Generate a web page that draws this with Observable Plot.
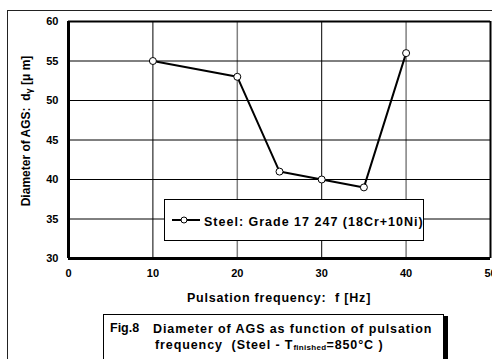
<!DOCTYPE html>
<html>
<head>
<meta charset="utf-8">
<script src="https://cdn.jsdelivr.net/npm/d3@7"></script>
<script src="https://cdn.jsdelivr.net/npm/@observablehq/plot@0.6"></script>
<style>
  html, body { margin: 0; padding: 0; background: #fff; }
  #wrap { position: relative; width: 492px; height: 359px; overflow: hidden; font-family: "Liberation Sans", Arial, sans-serif; font-weight: bold; color: #000; }
  #outer { position: absolute; left: 7px; top: 10px; width: 500px; height: 400px; border-left: 1.5px solid #222; border-top: 1.5px solid #222; }
  #ytitle { position: absolute; left: 27px; top: 131px; transform: translate(-50%, -50%) rotate(-90deg); white-space: nowrap; font-size: 12px; line-height: 14px; }
  #xtitle { position: absolute; left: 279px; top: 298px; transform: translate(-50%, -50%); white-space: nowrap; font-size: 12.5px; letter-spacing: 0.8px; line-height: 14px; }
  #legend { position: absolute; left: 164px; top: 199px; width: 260px; height: 42px; border: 1px solid #000; background: #fff; box-sizing: border-box; }
  #legend svg { position: absolute; left: 7px; top: 15px; }
  #legend span { position: absolute; left: 39px; top: 15px; font-size: 12.5px; line-height: 14px; white-space: nowrap; letter-spacing: 1px; }
  #caption { position: absolute; left: 103px; top: 314px; width: 341px; height: 60px; border: 1px solid #000; background: #fff; box-sizing: border-box; box-shadow: 4px 2px 0 #000; }
  #caption span { position: absolute; font-size: 12.5px; line-height: 14px; white-space: nowrap; }
  #caption .fig { left: 6px; top: 6px; }
  #caption .l1 { left: 49px; top: 7px; letter-spacing: 0.9px; }
  #caption .l2 { left: 51px; top: 23px; letter-spacing: 0.9px; }
  #caption sub { font-size: 8px; vertical-align: -1px; letter-spacing: 0.3px; }
  sub.g { font-size: 9px; vertical-align: -2px; }
</style>
</head>
<body>
<div id="wrap">
  <div id="outer"></div>
  <div id="chart"></div>
  <div id="ytitle">Diameter of AGS:&nbsp; d<sub class="g">γ</sub> [μ m]</div>
  <div id="xtitle">Pulsation frequency:&nbsp; f [Hz]</div>
  <div id="legend">
    <svg width="30" height="10"><line x1="0" y1="5" x2="28" y2="5" stroke="#000" stroke-width="2"/><circle cx="12" cy="5" r="3" fill="#fff" stroke="#000" stroke-width="1"/></svg>
    <span id="legendText"></span>
  </div>
  <div id="caption">
    <span class="fig">Fig.8</span>
    <span class="l1">Diameter of AGS as function of pulsation</span>
    <span class="l2">frequency&nbsp; (Steel - T<sub>finished</sub>=850°C )</span>
  </div>
</div>
<script>
const seriesName = "Steel: Grade 17 247 (18Cr+10Ni)";
const frequency = [10, 20, 25, 30, 35, 40];
const diameter = [55, 53, 41, 40, 39, 56];
const xTicks = [0, 10, 20, 30, 40, 50];
const yTicks = [30, 35, 40, 45, 50, 55, 60];
const xGridBlack = [10, 30];
const xGridGrey = [20, 40];
const yGrid = [35, 40, 45, 50, 55];

document.getElementById("legendText").textContent = seriesName;

const data = frequency.map((f, i) => ({ f, d: diameter[i] }));

const chart = Plot.plot({
  width: 492,
  height: 359,
  marginLeft: 68,
  marginRight: 2,
  marginTop: 21,
  marginBottom: 101,
  style: { fontFamily: "Liberation Sans, Arial, sans-serif", fontWeight: "bold", fontSize: "11px", background: "transparent", color: "#000" },
  x: { domain: [0, 50] },
  y: { domain: [30, 60] },
  marks: [
    Plot.ruleX(xGridBlack, { stroke: "#000", strokeWidth: 1 }),
    Plot.ruleX(xGridGrey, { stroke: "#808080", strokeWidth: 1.5 }),
    Plot.ruleY(yGrid, { stroke: "#000", strokeWidth: 1 }),
    Plot.ruleY([60], { stroke: "#000", strokeWidth: 2 }),
    Plot.ruleX([50], { stroke: "#000", strokeWidth: 2 }),
    Plot.ruleX([0], { stroke: "#000", strokeWidth: 3 }),
    Plot.ruleY([30], { stroke: "#000", strokeWidth: 3 }),
    Plot.axisX(xTicks, { tickSize: 0, tickPadding: 11, fontSize: 11, fontWeight: "bold", label: null }),
    Plot.axisY(yTicks, { tickSize: 0, tickPadding: 10, fontSize: 11, fontWeight: "bold", label: null }),
    Plot.line(data, { x: "f", y: "d", stroke: "#000", strokeWidth: 2 }),
    Plot.dot(data, { x: "f", y: "d", r: 3.5, fill: "#fff", stroke: "#000", strokeWidth: 1 })
  ]
});
chart.style.position = "absolute";
chart.style.left = "0px";
chart.style.top = "0px";
document.getElementById("chart").appendChild(chart);
</script>
</body>
</html>
